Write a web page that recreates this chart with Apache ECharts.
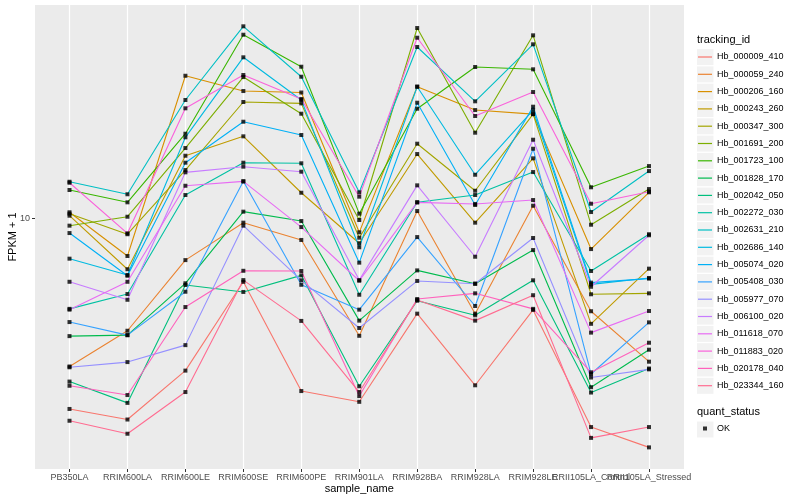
<!DOCTYPE html>
<html><head><meta charset="utf-8">
<script src="https://cdn.jsdelivr.net/npm/echarts@6.0.0/dist/echarts.min.js"></script>
<style>html,body{margin:0;padding:0;background:#fff}#c{width:800px;height:500px}</style>
</head><body><div id="c"></div>
<script>
const categories = ["PB350LA","RRIM600LA","RRIM600LE","RRIM600SE","RRIM600PE","RRIM901LA","RRIM928BA","RRIM928LA","RRIM928LE","RRII105LA_Control","RRII105LA_Stressed"];
const trackingIds = ["Hb_000009_410","Hb_000059_240","Hb_000206_160","Hb_000243_260","Hb_000347_300","Hb_001691_200","Hb_001723_100","Hb_001828_170","Hb_002042_050","Hb_002272_030","Hb_002631_210","Hb_002686_140","Hb_005074_020","Hb_005408_030","Hb_005977_070","Hb_006100_020","Hb_011618_070","Hb_011883_020","Hb_020178_040","Hb_023344_160"];
const lineColors = ["#F8766D","#EA8331","#D89000","#C09B00","#A3A500","#7CAE00","#39B600","#00BB4E","#00BF7D","#00C1A3","#00BFC4","#00BAE0","#00B0F6","#35A2FF","#9590FF","#C77CFF","#E76BF3","#FA62DB","#FF62BC","#FF6C91"];

const s_000009_410 = [2.31, 2.13, 3.10, 6.13, 2.65, 2.44, 4.80, 2.77, 4.94, 2.01, 1.72];
const s_000059_240 = [3.20, 4.21, 7.24, 9.65, 8.45, 4.05, 10.55, 4.80, 10.99, 4.89, 3.32];
const s_000206_160 = [10.45, 7.47, 29.8, 26.5, 26.2, 8.96, 27.4, 22.9, 22.2, 7.88, 12.18];
const s_000243_260 = [10.18, 6.75, 16.13, 18.72, 12.14, 8.24, 16.34, 9.65, 15.81, 4.44, 6.78];
const s_000347_300 = [10.34, 8.83, 14.45, 24.36, 24.11, 8.60, 17.69, 12.33, 22.2, 5.57, 5.61];
const s_001691_200 = [9.43, 10.10, 17.11, 29.5, 22.27, 9.85, 42.98, 19.25, 40.64, 9.50, 12.49];
const s_001723_100 = [12.40, 11.28, 19.10, 40.83, 31.94, 10.34, 23.14, 31.87, 31.31, 12.66, 14.90];
const s_001828_170 = [4.04, 4.07, 6.06, 10.50, 9.77, 4.55, 6.69, 6.04, 7.82, 2.73, 3.64];
const s_002042_050 = [2.85, 2.42, 5.98, 5.67, 6.44, 2.75, 5.30, 4.74, 6.20, 2.62, 3.15];
const s_002272_030 = [4.98, 5.58, 11.93, 15.29, 15.22, 5.55, 11.28, 11.93, 14.23, 6.66, 8.83];
const s_002631_210 = [13.21, 12.00, 24.74, 43.55, 29.58, 12.18, 37.15, 24.49, 37.93, 10.47, 14.34];
const s_002686_140 = [7.32, 6.46, 18.58, 34.33, 24.74, 7.99, 27.4, 13.94, 22.9, 6.01, 6.31];
const s_005074_020 = [8.91, 6.42, 15.29, 20.94, 18.91, 7.10, 24.23, 11.05, 23.50, 6.09, 6.28];
const s_005408_030 = [4.50, 4.07, 5.68, 13.25, 5.99, 4.95, 8.64, 5.09, 17.02, 3.02, 4.49];
const s_005977_070 = [3.18, 3.31, 3.77, 9.43, 6.20, 4.30, 6.17, 6.04, 8.58, 2.94, 3.13];
const s_006100_020 = [6.13, 5.34, 14.20, 14.83, 14.27, 6.21, 12.85, 7.43, 18.24, 5.90, 8.76];
const s_011618_070 = [4.95, 6.13, 12.81, 13.25, 9.33, 6.18, 11.28, 11.14, 11.48, 4.15, 4.90];
const s_011883_020 = [13.11, 8.89, 23.21, 29.97, 24.93, 11.78, 39.90, 21.88, 26.30, 11.16, 12.24];
const s_020178_040 = [2.76, 2.57, 5.05, 6.67, 6.66, 2.55, 5.37, 5.61, 4.98, 3.06, 3.84];
const s_023344_160 = [2.11, 1.91, 2.63, 6.21, 4.54, 2.63, 5.33, 4.55, 5.53, 1.85, 2.01];

const yTickValues = [10];
const yTickLabels = ["10"];
const Y_MIN = 1.457;
const Y_MAX = 51.29;

const seriesValues = [s_000009_410, s_000059_240, s_000206_160, s_000243_260, s_000347_300, s_001691_200, s_001723_100, s_001828_170, s_002042_050, s_002272_030, s_002631_210, s_002686_140, s_005074_020, s_005408_030, s_005977_070, s_006100_020, s_011618_070, s_011883_020, s_020178_040, s_023344_160];

const FONT = '"Liberation Sans", Arial, sans-serif';
const chart = echarts.init(document.getElementById('c'), null, {renderer: 'canvas'});

const lineSeries = trackingIds.map((id, i) => ({
  name: id, type: 'line', xAxisIndex: 1, yAxisIndex: 1,
  data: seriesValues[i], symbol: 'none', silent: true, z: 2,
  lineStyle: {color: lineColors[i], width: 1.1}, itemStyle: {color: lineColors[i]}
}));
const pointData = [];
seriesValues.forEach(arr => arr.forEach((v, j) => pointData.push([j, v])));

const keyRects = [];
for (let i = 0; i < trackingIds.length; i++) {
  keyRects.push({type: 'rect', shape: {x: 697, y: 49.1 + i * 17.3, width: 16.5, height: 16}, style: {fill: '#F2F2F2'}, z: 0, silent: true});
}
keyRects.push({type: 'rect', shape: {x: 697, y: 421.5, width: 16.5, height: 16}, style: {fill: '#F2F2F2'}, z: 0, silent: true});

chart.setOption({
  animation: false,
  textStyle: {fontFamily: FONT},
  title: [
    {text: 'tracking_id', left: 697, top: 34, padding: 0, textStyle: {fontSize: 11, fontWeight: 'normal', color: '#000', fontFamily: FONT}},
    {text: 'quant_status', left: 697, top: 406, padding: 0, textStyle: {fontSize: 11, fontWeight: 'normal', color: '#000', fontFamily: FONT}}
  ],
  graphic: keyRects,
  grid: [
    {left: 35, right: 116, top: 5, bottom: 31, show: true, backgroundColor: '#EBEBEB', borderWidth: 0, containLabel: false, outerBoundsMode: 'none'},
    {left: 69.5, right: 151, top: 5, bottom: 31, containLabel: false, outerBoundsMode: 'none'}
  ],
  xAxis: [
    {gridIndex: 0, type: 'value', show: false, min: 0, max: 1},
    {gridIndex: 1, type: 'category', data: categories, boundaryGap: false,
     axisLine: {show: false},
     axisTick: {show: true, length: 3, lineStyle: {color: '#333', width: 1}},
     axisLabel: {fontSize: 9, color: '#4D4D4D', margin: 4, interval: 0, fontFamily: FONT},
     splitLine: {show: true, lineStyle: {color: '#FFFFFF', width: 1.2}},
     name: 'sample_name', nameLocation: 'middle', nameGap: 14, nameMoveOverlap: false,
     nameTextStyle: {fontSize: 11, color: '#000', fontFamily: FONT}}
  ],
  yAxis: [
    {gridIndex: 0, type: 'log', min: Y_MIN, max: Y_MAX,
     axisLine: {show: false},
     axisTick: {show: true, length: 3, customValues: yTickValues, lineStyle: {color: '#333', width: 1}},
     axisLabel: {customValues: yTickValues, fontSize: 9, color: '#4D4D4D', margin: 5, fontFamily: FONT,
       formatter: v => { const k = yTickValues.findIndex(t => Math.abs(t - v) < 1e-6); return k >= 0 ? yTickLabels[k] : ''; }},
     splitLine: {show: true, showMinLine: false, showMaxLine: false, lineStyle: {color: '#FFFFFF', width: 1.2}},
     name: 'FPKM + 1', nameLocation: 'middle', nameGap: 17, nameMoveOverlap: false,
     nameTextStyle: {fontSize: 11, color: '#000', fontFamily: FONT}},
    {gridIndex: 1, type: 'log', min: Y_MIN, max: Y_MAX, show: false, splitLine: {show: false}}
  ],
  legend: [
    {orient: 'vertical', left: 698, top: 48.5, padding: 0, itemWidth: 14, itemHeight: 1.2, itemGap: 0.3,
     icon: 'path://M0,0L14,0L14,1.2L0,1.2Z',
     data: trackingIds, selectedMode: false,
     textStyle: {fontSize: 9, lineHeight: 17, color: '#000', fontFamily: FONT}},
    {orient: 'vertical', left: 703, top: 424, padding: 0, itemWidth: 4, itemHeight: 4, icon: 'rect',
     data: ['OK'], selectedMode: false, textStyle: {fontSize: 9, color: '#000', fontFamily: FONT, padding: [0, 0, 0, 5]}}
  ],
  series: lineSeries.concat([{
    name: 'OK', type: 'scatter', xAxisIndex: 1, yAxisIndex: 1, data: pointData,
    symbol: 'rect', symbolSize: 4, itemStyle: {color: '#000'}, silent: true, z: 3
  }])
});
</script>
</body></html>
